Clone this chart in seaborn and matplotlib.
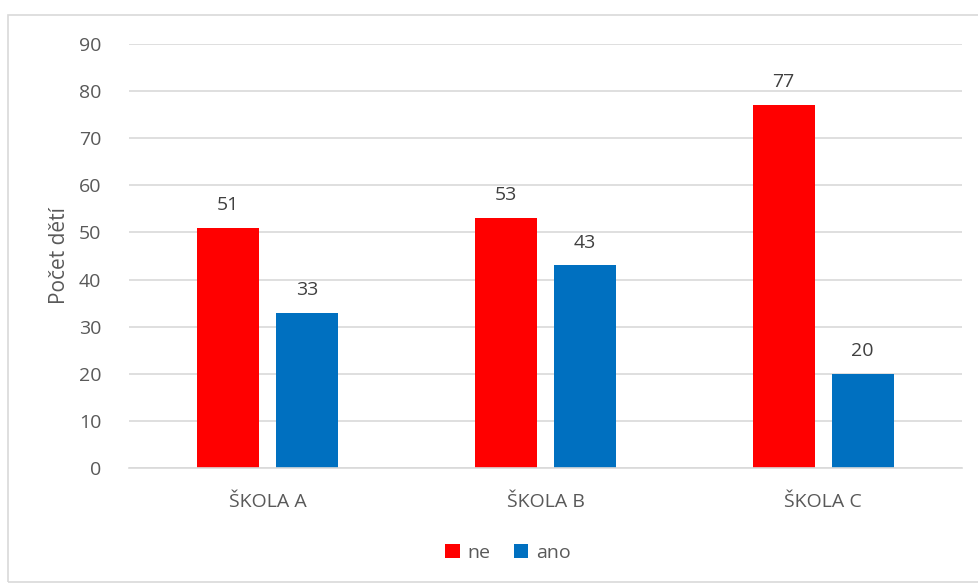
import matplotlib
matplotlib.use("Agg")
import matplotlib.pyplot as plt
import seaborn as sns
import pandas as pd
from matplotlib.patches import Rectangle, Patch

categories = ["ŠKOLA A", "ŠKOLA B", "ŠKOLA C"]
series_names = ["ne", "ano"]
ne_values = [51, 53, 77]
ano_values = [33, 43, 20]
colors = ["#FF0000", "#0070C0"]
y_ticks = [0, 10, 20, 30, 40, 50, 60, 70, 80, 90]

df = pd.DataFrame({
    "skola": categories * 2,
    "odpoved": [series_names[0]] * 3 + [series_names[1]] * 3,
    "pocet": ne_values + ano_values,
})

sns.set_theme(style="white")
plt.rcParams["font.family"] = ["Open Sans", "DejaVu Sans"]

fig = plt.figure(figsize=(9.79, 5.84), dpi=100)
ax = fig.add_axes([129 / 979, 1 - 468 / 584, (962 - 129) / 979, (468 - 44) / 584])

sns.barplot(data=df, x="skola", y="pocet", hue="odpoved", order=categories,
            hue_order=series_names, palette=colors, width=0.57, gap=0.217,
            saturation=1, linewidth=0, ax=ax, legend=False)

ax.set_ylim(0, 90)
ax.set_xlim(-0.5, 2.5)
ax.set_yticks(y_ticks)
ax.yaxis.grid(True, color="#D9D9D9", linewidth=1.2)
ax.set_axisbelow(True)
for s in ["top", "right", "left"]:
    ax.spines[s].set_visible(False)
ax.spines["bottom"].set_color("#D9D9D9")
ax.spines["bottom"].set_linewidth(1.2)
ax.tick_params(axis="both", length=0, labelsize=14, colors="#595959")
ax.tick_params(axis="y", pad=20)
ax.tick_params(axis="x", pad=18)
ax.set_xlabel("")
ax.set_ylabel("Počet dětí", fontsize=15, color="#595959")
ax.yaxis.set_label_coords(-0.071, 0.5)

for container in ax.containers:
    ax.bar_label(container, fmt="%d", padding=10, fontsize=14, color="#404040")

handles = [Patch(facecolor=c, edgecolor="none") for c in colors]
fig.legend(handles, series_names, loc="center", bbox_to_anchor=(508 / 979, 1 - 553 / 584),
           ncol=2, frameon=False, fontsize=14, labelcolor="#595959",
           handlelength=0.75, handleheight=0.75, handletextpad=0.4, columnspacing=1.2)

fig.patches.append(Rectangle((8 / 979, 2 / 584), 1.2, 1 - 17 / 584, transform=fig.transFigure,
                             fill=False, edgecolor="#D9D9D9", linewidth=1.2))

fig.savefig("out.png", dpi=100)
